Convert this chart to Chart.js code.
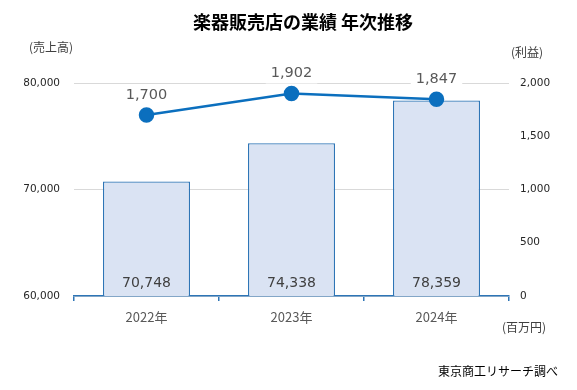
<!DOCTYPE html>
<html>
<head>
<meta charset="utf-8">
<script src="https://cdn.jsdelivr.net/npm/chart.js@4/dist/chart.umd.min.js"></script>
<style>
    body { margin: 0; background: #fff; }
    #wrap { width: 577px; height: 390px; }
</style>
</head>
<body>
<div id="wrap"><canvas id="canvas-1" width="577" height="390"></canvas></div>
<script>
var years = ['2022年', '2023年', '2024年'];
var sales = [70748, 74338, 78359];
var profit = [1700, 1902, 1847];
var salesTicks = [60000, 70000, 80000];
var profitTicks = [0, 500, 1000, 1500, 2000];

var JP = '"Noto Sans CJK JP", sans-serif';
var NUM = '"DejaVu Sans", sans-serif';

function fmt(v) {
    return Number(v).toLocaleString('en-US');
}

// value labels + fixed texts
var labelPlugin = {
    id: 'labels',
    afterDatasetsDraw: function (chart) {
        var ctx = chart.ctx;
        var area = chart.chartArea;
        ctx.save();
        ctx.textAlign = 'center';
        ctx.textBaseline = 'middle';

        // bar values near the bottom
        ctx.font = '14px ' + NUM;
        ctx.fillStyle = '#404040';
        chart.getDatasetMeta(1).data.forEach(function (bar, i) {
            ctx.fillText(fmt(sales[i]), bar.x, area.bottom - 13);
        });

        // line values above points, white box behind
        ctx.font = '14.5px ' + NUM;
        chart.getDatasetMeta(0).data.forEach(function (pt, i) {
            var txt = fmt(profit[i]);
            var w = ctx.measureText(txt).width;
            ctx.fillStyle = '#ffffff';
            ctx.fillRect(pt.x - w / 2 - 5, pt.y - 30, w + 10, 20);
            ctx.fillStyle = '#595959';
            ctx.fillText(txt, pt.x, pt.y - 20);
        });

        // title and notes
        ctx.fillStyle = '#000000';
        ctx.font = 'bold 18px ' + JP;
        ctx.fillText('楽器販売店の業績 年次推移', 303, 22);

        ctx.fillStyle = '#404040';
        ctx.font = '12px ' + JP;
        ctx.fillText('(売上高)', 51, 47);
        ctx.fillText('(利益)', 527, 52);
        ctx.fillText('(百万円)', 524, 327);
        ctx.fillStyle = '#000000';
        ctx.fillText('東京商工リサーチ調べ', 498, 371);
        ctx.restore();
    }
};

var ctx = document.getElementById('canvas-1');
//noinspection JSUnusedLocalSymbols
var chart = new Chart(ctx, {
    data: {
        labels: years,
        datasets: [
            {
                type: 'line',
                label: '利益',
                data: profit,
                yAxisID: 'y1',
                order: 0,
                borderColor: '#0b6fbe',
                backgroundColor: '#0b6fbe',
                borderWidth: 2.5,
                pointRadius: 6.5,
                pointHoverRadius: 6.5,
                tension: 0
            },
            {
                type: 'bar',
                label: '売上高',
                data: sales,
                yAxisID: 'y',
                order: 1,
                backgroundColor: '#dae3f3',
                borderColor: '#2e75b6',
                borderWidth: 1.3,
                barPercentage: 0.6,
                categoryPercentage: 1.0
            }
        ]
    },
    options: {
        responsive: false,
        animation: false,
        layout: {
            padding: {top: 83, left: 0, right: 0, bottom: 0}
        },
        plugins: {
            legend: {display: false},
            title: {display: false},
            tooltip: {enabled: false}
        },
        scales: {
            x: {
                offset: true,
                grid: {
                    drawOnChartArea: false,
                    drawTicks: true,
                    tickLength: 5,
                    color: '#2e75b6',
                    lineWidth: 1.5
                },
                border: {color: '#2e75b6', width: 1.5},
                ticks: {
                    color: '#595959',
                    font: {family: JP, size: 13},
                    padding: 8
                },
                afterFit: function (scale) {
                    scale.height = 94;
                }
            },
            y: {
                position: 'left',
                min: salesTicks[0],
                max: salesTicks[salesTicks.length - 1],
                afterBuildTicks: function (scale) {
                    scale.ticks = salesTicks.map(function (v) { return {value: v}; });
                },
                grid: {color: '#d9d9d9', drawTicks: false},
                border: {display: false},
                ticks: {
                    color: '#262626',
                    font: {family: NUM, size: 10.5},
                    padding: 14,
                    callback: function (v) { return fmt(v); }
                },
                afterFit: function (scale) {
                    scale.width = 74;
                }
            },
            y1: {
                position: 'right',
                min: profitTicks[0],
                max: profitTicks[profitTicks.length - 1],
                afterBuildTicks: function (scale) {
                    scale.ticks = profitTicks.map(function (v) { return {value: v}; });
                },
                grid: {drawOnChartArea: false, drawTicks: false},
                border: {display: false},
                ticks: {
                    color: '#262626',
                    font: {family: NUM, size: 10.5},
                    padding: 11,
                    callback: function (v) { return fmt(v); }
                },
                afterFit: function (scale) {
                    scale.width = 68;
                }
            }
        }
    },
    plugins: [labelPlugin]
});
</script>
</body>
</html>
